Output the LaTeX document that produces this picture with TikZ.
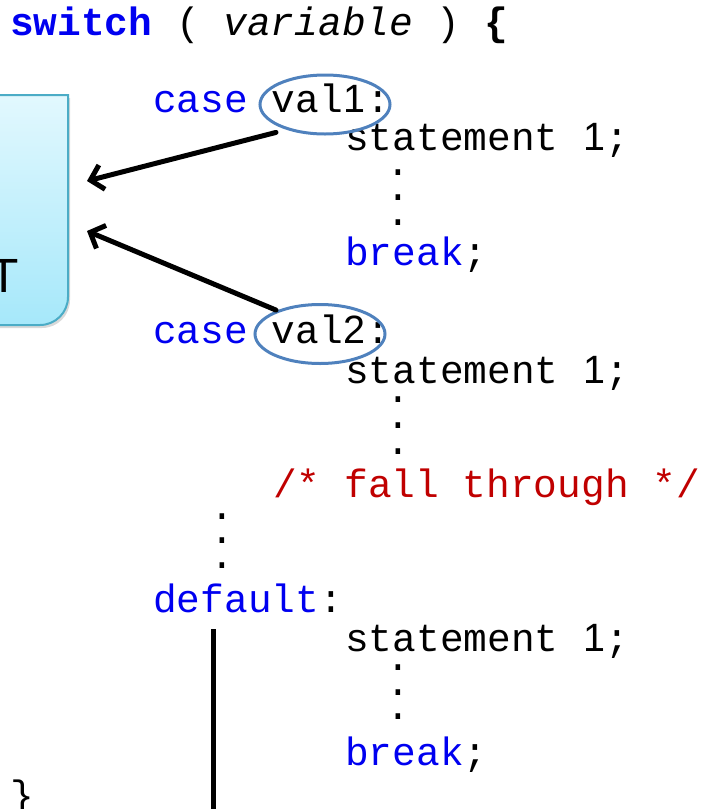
\documentclass[tikz,border=0pt]{standalone}
\usepackage{fontspec}
\setmainfont{Liberation Serif}
\setsansfont{Liberation Sans}
\setmonofont{Liberation Mono}
\usetikzlibrary{positioning,shapes.geometric,arrows.meta,shadows}
\definecolor{keyblue}{RGB}{0,0,240}
\definecolor{commentred}{RGB}{192,0,0}
\definecolor{ringblue}{RGB}{79,129,189}
\definecolor{boxedge}{RGB}{75,172,198}
\definecolor{boxtop}{RGB}{226,248,254}
\definecolor{boxbottom}{RGB}{166,232,250}

\newcommand{\kw}[1]{\textcolor{keyblue}{#1}}
\newcommand{\dg}[1]{\makebox[0.6em]{\sffamily #1}}

\tikzset{
    code/.style={anchor=base west, inner sep=0pt, font=\fontsize{39.5pt}{47pt}\selectfont\ttfamily},
    dot/.style={inner sep=0pt, font=\fontsize{39.5pt}{47pt}\selectfont\ttfamily},
    ring/.style={ellipse, draw=ringblue, line width=3pt, minimum width=130pt, minimum height=59pt, inner sep=0pt},
    pointer/.style={-{Straight Barb[length=12pt,width=25pt]}, line width=5pt, line cap=round, line join=round}
}

\begin{document}
\begin{tikzpicture}[x=1pt, y=-1pt]
    \useasboundingbox (0,0) rectangle (704,809);

    % === Box at the left edge ===
    \draw[draw=boxedge, line width=2pt, top color=boxtop, bottom color=boxbottom,
          drop shadow={opacity=0.3, shadow xshift=2pt, shadow yshift=-3pt}]
        (-20,95) -- (68,95) -- (68,297) arc[start angle=0, end angle=90, radius=28] -- (-20,325) -- cycle;
    \node[font=\fontsize{48pt}{50pt}\selectfont\sffamily, anchor=base east, inner sep=0pt] (boxT) at (19,292) {T};

    % === Code lines ===
    \node[code] (head) at (10,35) {\textbf{\kw{switch}} ( \textit{variable} ) \textbf{\{}};
    \node[code] (case1) at (153,112) {\kw{case} val\dg{1}:};
    \node[code] (stmt1) at (345,150) {statement \dg{1};};
    \node[code] (brk1) at (345,265) {\kw{break};};
    \node[code] (case2) at (153,343) {\kw{case} val\dg{2}:};
    \node[code] (stmt2) at (345,383) {statement \dg{1};};
    \node[code, text=commentred] (fall) at (273,497) {/* fall through */};
    \node[code] (dflt) at (153,612) {\kw{default}:};
    \node[code] (stmt3) at (345,651) {statement \dg{1};};
    \node[code] (brk3) at (345,765) {\kw{break};};
    \node[code] (close) at (10,808) {\}};

    % === Dots ===
    \node[dot] (d1a) at (398,173) {.};
    \node[dot] (d1b) at (398,198) {.};
    \node[dot] (d1c) at (398,223) {.};
    \node[dot] (d2a) at (398,400) {.};
    \node[dot] (d2b) at (398,426) {.};
    \node[dot] (d2c) at (398,452) {.};
    \node[dot] (d3a) at (222,517) {.};
    \node[dot] (d3b) at (222,541) {.};
    \node[dot] (d3c) at (222,566) {.};
    \node[dot] (d4a) at (398,668) {.};
    \node[dot] (d4b) at (398,693) {.};
    \node[dot] (d4c) at (398,717) {.};

    % === Rings and arrows ===
    \node[ring] (v1) at (325,104.5) {};
    \node[ring] (v2) at (320,334) {};
    \coordinate (t1) at (87,181);
    \coordinate (t2) at (87,231);
    \draw[pointer] ([shift={(-2,6)}]v1.south west) -- (t1);
    \draw[pointer] ([shift={(3,-2)}]v2.north west) -- (t2);

    % === Bar under default ===
    \coordinate (bartop) at (213,629);
    \coordinate (barend) at (213,815);
    \draw[line width=5pt] (bartop) -- (barend);
\end{tikzpicture}
\end{document}
